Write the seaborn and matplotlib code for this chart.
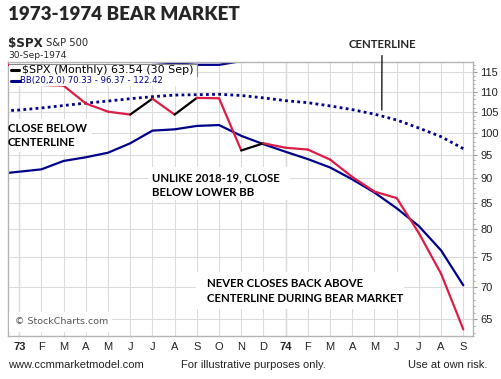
"""
1973-1974 bear market: S&P 500 monthly close with 20-month Bollinger Bands
"""

import matplotlib.pyplot as plt
import matplotlib.ticker as mticker
from matplotlib.patches import Rectangle
import seaborn as sns
import pandas as pd

# month index: -1 = Dec 1972, 0 = Jan 1973 ... 20 = Sep 1974
month_idx = list(range(-1, 21))
month_labels = ['73', 'F', 'M', 'A', 'M', 'J', 'J', 'A', 'S', 'O', 'N', 'D',
                '74', 'F', 'M', 'A', 'M', 'J', 'J', 'A', 'S']

spx_close = [118.1, 116.0, 111.7, 111.5, 107.0, 105.0, 104.3, 108.2, 104.3, 108.4,
             108.3, 96.0, 97.6, 96.6, 96.2, 94.0, 90.3, 87.3, 86.0, 79.3, 72.2, 63.5]
bb_lower = [90.9, 91.4, 91.9, 93.7, 94.5, 95.5, 97.6, 100.5, 100.8, 101.6,
            101.8, 99.3, 97.4, 95.7, 94.1, 92.3, 89.8, 87.1, 84.0, 80.6, 76.2, 70.3]
bb_center = [105.1, 105.4, 105.9, 106.5, 107.1, 107.6, 108.2, 108.7, 109.1, 109.2,
             109.3, 109.0, 108.4, 107.7, 107.2, 106.4, 105.5, 104.4, 103.0, 101.1, 99.1, 96.4]
bb_upper = [119.0, 119.4, 119.9, 119.3, 119.7, 119.7, 118.0, 117.8, 117.4, 117.0,
            117.0, 118.0, 119.8, 119.5, 120.1, 120.5, 121.2, 121.7, 122.0, 121.6, 122.0, 122.4]

y_ticks = [65, 70, 75, 80, 85, 90, 95, 100, 105, 110, 115]

df = pd.DataFrame({
    'month': month_idx,
    'close': spx_close,
    'lower': bb_lower,
    'center': bb_center,
    'upper': bb_upper,
})

sns.set_style("white")

W, H = 501, 379
RED = '#dc1e46'
NAVY = '#000088'
GRID = '#dcdcdc'


def fx(x):
    return x / W


def fy(y):
    return 1 - y / H


fig = plt.figure(figsize=(W / 100, H / 100), dpi=100)
ax = fig.add_axes([fx(8), fy(336), (473.3 - 8) / W, (336 - 61.7) / H])

# Bollinger bands
sns.lineplot(data=df, x='month', y='lower', ax=ax, color=NAVY, linewidth=1.6)
sns.lineplot(data=df, x='month', y='upper', ax=ax, color=NAVY, linewidth=1.6)
sns.lineplot(data=df, x='month', y='center', ax=ax, color=NAVY, linewidth=2.0,
             linestyle=(0, (1, 1.2)))

# Close: red on down months, black on up months
for i in range(1, len(df)):
    prev, cur = df['close'].iloc[i - 1], df['close'].iloc[i]
    ax.plot(df['month'].iloc[i - 1:i + 1], df['close'].iloc[i - 1:i + 1],
            color=RED if cur < prev else 'black', linewidth=1.6,
            solid_capstyle='round', zorder=3)

ax.set_yscale('log')
ax.set_xlim(-0.504, 20.45)
ax.set_ylim(62.53, 117.85)

ax.yaxis.tick_right()
ax.yaxis.set_major_locator(mticker.FixedLocator(y_ticks))
ax.yaxis.set_major_formatter(mticker.FixedFormatter([str(v) for v in y_ticks]))
ax.yaxis.set_minor_locator(mticker.FixedLocator([v for v in range(63, 118) if v % 5]))
ax.yaxis.set_minor_formatter(mticker.NullFormatter())
ax.tick_params(axis='y', which='major', length=3, width=0.8, color='#999999',
               labelsize=8, labelcolor='#222222', pad=2)
ax.tick_params(axis='y', which='minor', length=1.5, width=0.6, color='#999999')
for lab in ax.get_yticklabels():
    lab.set_fontfamily('Liberation Sans')

ax.set_xticks(range(0, 21))
ax.set_xticklabels(month_labels)
ax.tick_params(axis='x', length=2, color='#999999', labelsize=8,
               labelcolor='#222222', pad=2)
for lab in ax.get_xticklabels():
    lab.set_fontfamily('Liberation Sans')
    if lab.get_text() in ('73', '74'):
        lab.set_fontweight('bold')

ax.set_xlabel('')
ax.set_ylabel('')
ax.grid(True, which='major', color=GRID, linewidth=0.8)
for m in (0, 12):
    ax.axvline(m, color='#bdbdbd', linewidth=0.9, zorder=0.5)
for s in ax.spines.values():
    s.set_color('#b4b4b4')
    s.set_linewidth(1.0)

# legend block
fig.patches.append(Rectangle((fx(8.5), fy(86)), (197 - 8.5) / W, (86 - 63.5) / H,
                             transform=fig.transFigure, facecolor='white',
                             edgecolor='none', zorder=5))
fig.add_artist(plt.Line2D([fx(8.5), fx(197)], [fy(63.5), fy(63.5)],
                          transform=fig.transFigure, color='#888888', linewidth=0.8, zorder=6))
fig.add_artist(plt.Line2D([fx(197), fx(197)], [fy(63.5), fy(76)],
                          transform=fig.transFigure, color='#888888', linewidth=0.8, zorder=6))
fig.add_artist(plt.Line2D([fx(11), fx(19)], [fy(70), fy(70)],
                          transform=fig.transFigure, color='black', linewidth=2.2, zorder=6))
fig.add_artist(plt.Line2D([fx(11), fx(20)], [fy(80.5), fy(80.5)],
                          transform=fig.transFigure, color=NAVY, linewidth=2.2, zorder=6))
fig.text(fx(22), fy(70), '$SPX (Monthly) 63.54 (30 Sep)', fontsize=8.0,
         family='DejaVu Sans', va='center', ha='left', color='black', zorder=7)
fig.text(fx(20.5), fy(80.5), 'BB(20,2.0) 70.33 - 96.37 - 122.42', fontsize=6.1,
         family='DejaVu Sans', va='center', ha='left', color=NAVY, zorder=7)

# white boxes behind annotations
for (x0, y0, x1, y1) in [(8.5, 119, 92, 152), (148, 167, 290, 200),
                         (196, 272, 404, 309), (8.5, 312, 112, 332)]:
    fig.patches.append(Rectangle((fx(x0), fy(y1)), (x1 - x0) / W, (y1 - y0) / H,
                                 transform=fig.transFigure, facecolor='white',
                                 edgecolor='none', zorder=5))

ann = dict(fontsize=8.2, family='Lato', fontweight='bold', color='black',
           va='center', ha='left', zorder=7)
fig.text(fx(8), fy(128), 'CLOSE BELOW', **ann)
fig.text(fx(8), fy(142.7), 'CENTERLINE', **ann)
fig.text(fx(152), fy(178), 'UNLIKE 2018-19, CLOSE', **ann)
fig.text(fx(152), fy(192.7), 'BELOW LOWER BB', **ann)
fig.text(fx(207), fy(283.3), 'NEVER CLOSES BACK ABOVE', **ann)
fig.text(fx(207), fy(298.3), 'CENTERLINE DURING BEAR MARKET', **ann)

ax.annotate('CENTERLINE', xy=(16.33, 105.4), xycoords='data',
            xytext=(fx(382), fy(44)), textcoords='figure fraction',
            ha='center', va='center', fontsize=8.2, family='Lato', fontweight='bold',
            arrowprops=dict(arrowstyle='-', color='black', linewidth=0.9,
                            shrinkA=2, shrinkB=0))

fig.text(fx(15), fy(322), '\u00a9 StockCharts.com', fontsize=6.8, family='DejaVu Sans',
         color='#555555', va='center', ha='left', zorder=7)

# header
fig.text(fx(8), fy(15), '1973-1974 BEAR MARKET', fontsize=13.5, family='Lato',
         fontweight='heavy', va='center', ha='left')
fig.text(fx(8), fy(43), '$SPX', fontsize=8.6, family='DejaVu Sans', fontweight='bold',
         va='center', ha='left')
fig.text(fx(46), fy(43.5), 'S&P 500', fontsize=7.2, family='DejaVu Sans',
         va='center', ha='left')
fig.text(fx(8), fy(56), '30-Sep-1974', fontsize=6.6, family='DejaVu Sans',
         va='center', ha='left')

# footer
foot = dict(fontsize=8, family='Liberation Sans', color='#222222', va='center')
fig.text(fx(8), fy(364.5), 'www.ccmmarketmodel.com', ha='left', **foot)
fig.text(fx(253.5), fy(364.5), 'For illustrative purposes only.', ha='center', **foot)
fig.text(fx(487), fy(364.5), 'Use at own risk.', ha='right', **foot)

fig.savefig('out.png', dpi=100)
